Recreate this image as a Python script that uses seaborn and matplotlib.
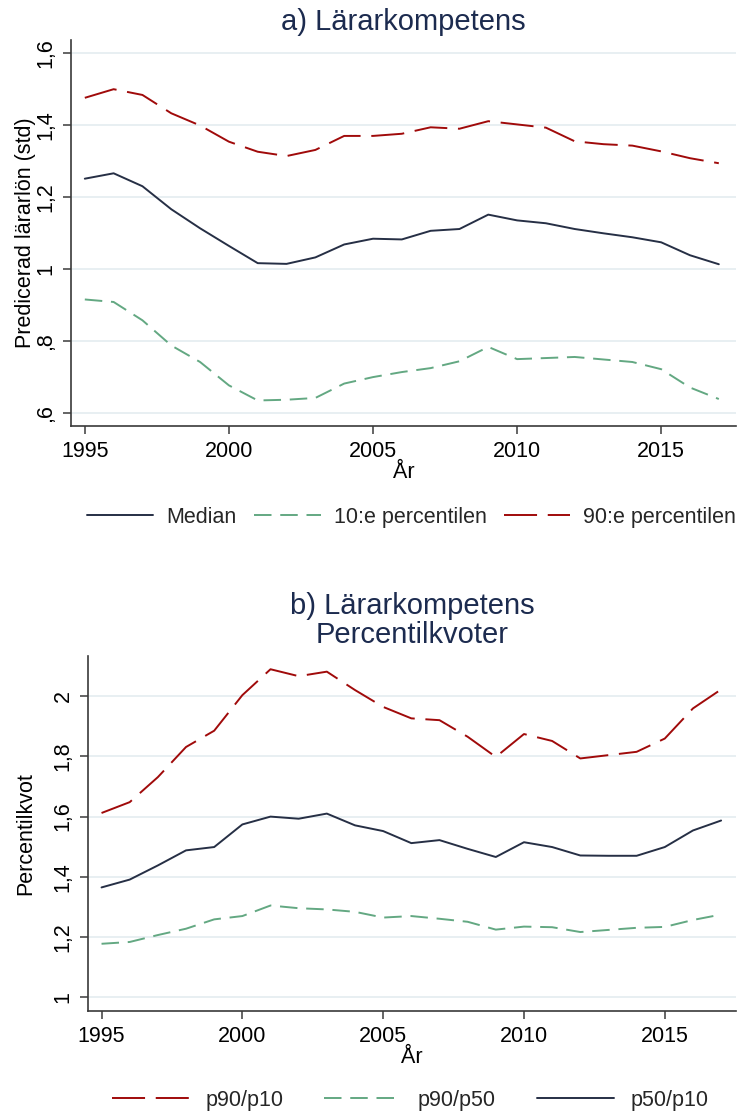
import numpy as np
import pandas as pd
import matplotlib
matplotlib.use('Agg')
import matplotlib.pyplot as plt
from matplotlib.ticker import FuncFormatter
import seaborn as sns

# Data
years = list(range(1995, 2018))

median = [1.251, 1.266, 1.230, 1.166, 1.113, 1.064, 1.016, 1.014, 1.032, 1.068, 1.084, 1.082,
          1.106, 1.111, 1.151, 1.135, 1.127, 1.111, 1.099, 1.088, 1.074, 1.038, 1.013]
p10 = [0.915, 0.908, 0.857, 0.787, 0.741, 0.676, 0.634, 0.636, 0.641, 0.681, 0.699, 0.713,
       0.724, 0.743, 0.783, 0.749, 0.752, 0.755, 0.748, 0.741, 0.721, 0.670, 0.638]
p90 = [1.476, 1.500, 1.484, 1.433, 1.399, 1.354, 1.326, 1.314, 1.331, 1.370, 1.370, 1.376,
       1.394, 1.390, 1.411, 1.402, 1.393, 1.355, 1.347, 1.343, 1.327, 1.308, 1.294]

p90_p10 = [1.612, 1.648, 1.731, 1.831, 1.885, 2.003, 2.089, 2.066, 2.081, 2.020, 1.964, 1.926,
           1.920, 1.865, 1.798, 1.874, 1.851, 1.793, 1.804, 1.815, 1.859, 1.959, 2.022]
p90_p50 = [1.178, 1.184, 1.207, 1.228, 1.259, 1.270, 1.305, 1.296, 1.292, 1.284, 1.265, 1.270,
           1.261, 1.251, 1.225, 1.235, 1.233, 1.217, 1.224, 1.231, 1.234, 1.257, 1.275]
p50_p10 = [1.365, 1.391, 1.438, 1.488, 1.499, 1.574, 1.600, 1.593, 1.610, 1.571, 1.552, 1.512,
           1.522, 1.493, 1.466, 1.515, 1.499, 1.471, 1.470, 1.470, 1.499, 1.554, 1.587]

x_ticks = [1995, 2000, 2005, 2010, 2015]
y_ticks_a = [0.6, 0.8, 1.0, 1.2, 1.4, 1.6]
y_ticks_b = [1.0, 1.2, 1.4, 1.6, 1.8, 2.0]

df_a = pd.DataFrame({'year': years, 'Median': median, '10:e percentilen': p10, '90:e percentilen': p90})
df_b = pd.DataFrame({'year': years, 'p90/p10': p90_p10, 'p90/p50': p90_p50, 'p50/p10': p50_p10})

# Style
sns.set_theme(style="white")
plt.rcParams['font.family'] = ['Liberation Sans', 'DejaVu Sans']

navy = '#1c2b4f'
dark = '#262f45'
green = '#63a882'
red = '#a00a0a'
grid_col = '#e6eef1'
spine_col = '#3a3a3a'

long_dash = (0, (17, 5.5))
med_dash = (0, (9, 4.5))


def stata_fmt(v, pos):
    s = f"{round(v, 2):g}".replace('.', ',')
    if s.startswith('0,'):
        s = s[1:]
    return s


def style_axes(ax, yticks):
    ax.set_xticks(x_ticks)
    ax.set_yticks(yticks)
    ax.yaxis.set_major_formatter(FuncFormatter(stata_fmt))
    ax.grid(axis='y', color=grid_col, linewidth=1.3)
    ax.grid(axis='x', visible=False)
    for side in ['top', 'right']:
        ax.spines[side].set_visible(False)
    for side in ['left', 'bottom']:
        ax.spines[side].set_color(spine_col)
        ax.spines[side].set_linewidth(1.2)
    ax.tick_params(axis='both', direction='out', length=6, width=1.1, color=spine_col,
                   labelsize=15.5, labelcolor='black', left=True, bottom=True, pad=4.5)
    ax.tick_params(axis='y', labelrotation=90)
    for lbl in ax.get_yticklabels():
        lbl.set_va('center')
    ax.set_xlabel('År', fontsize=15.5, color='black', labelpad=0)


fig = plt.figure(figsize=(7.44, 11.16), dpi=100)

# a) Lärarkompetens
ax1 = fig.add_axes([0.0954, 0.6183, 0.894, 0.3459])
sns.lineplot(data=df_a, x='year', y='Median', ax=ax1, color=dark, linewidth=1.4, label='Median')
sns.lineplot(data=df_a, x='year', y='10:e percentilen', ax=ax1, color=green, linewidth=1.4,
             linestyle=med_dash, label='10:e percentilen')
sns.lineplot(data=df_a, x='year', y='90:e percentilen', ax=ax1, color=red, linewidth=1.4,
             linestyle=long_dash, label='90:e percentilen')
ax1.set_xlim(1994.52, 2017.6)
ax1.set_ylim(0.563, 1.637)
style_axes(ax1, y_ticks_a)
ax1.set_ylabel('Predicerad lärarlön (std)', fontsize=15.5, color='black')
ax1.yaxis.set_label_coords(-0.052, 0.5)
ax1.set_title('a) Lärarkompetens', fontsize=21, color=navy, pad=7)
h, l = ax1.get_legend_handles_labels()
ax1.get_legend().remove()
fig.legend(h, l, loc='center', bbox_to_anchor=(0.553, 0.5367), ncol=3, frameon=False,
           fontsize=15.5, handlelength=3.1, handletextpad=0.6, columnspacing=0.8)

# b) Percentilkvoter
ax2 = fig.add_axes([0.1183, 0.0941, 0.871, 0.3181])
sns.lineplot(data=df_b, x='year', y='p90/p10', ax=ax2, color=red, linewidth=1.4,
             linestyle=long_dash, label='p90/p10')
sns.lineplot(data=df_b, x='year', y='p90/p50', ax=ax2, color=green, linewidth=1.4,
             linestyle=med_dash, label='p90/p50')
sns.lineplot(data=df_b, x='year', y='p50/p10', ax=ax2, color=dark, linewidth=1.4, label='p50/p10')
ax2.set_xlim(1994.52, 2017.53)
ax2.set_ylim(0.955, 2.133)
style_axes(ax2, y_ticks_b)
ax2.set_ylabel('Percentilkvot', fontsize=15.5, color='black')
ax2.yaxis.set_label_coords(-0.08, 0.5)
ax2.set_title('b) Lärarkompetens\nPercentilkvoter', fontsize=21, color=navy, pad=9, linespacing=1.05)
h, l = ax2.get_legend_handles_labels()
ax2.get_legend().remove()
fig.legend(h, l, loc='center', bbox_to_anchor=(0.551, 0.0143), ncol=3, frameon=False,
           fontsize=15.5, handlelength=3.6, handletextpad=0.75, columnspacing=1.9)

plt.savefig('out.png', dpi=100)
plt.close()
